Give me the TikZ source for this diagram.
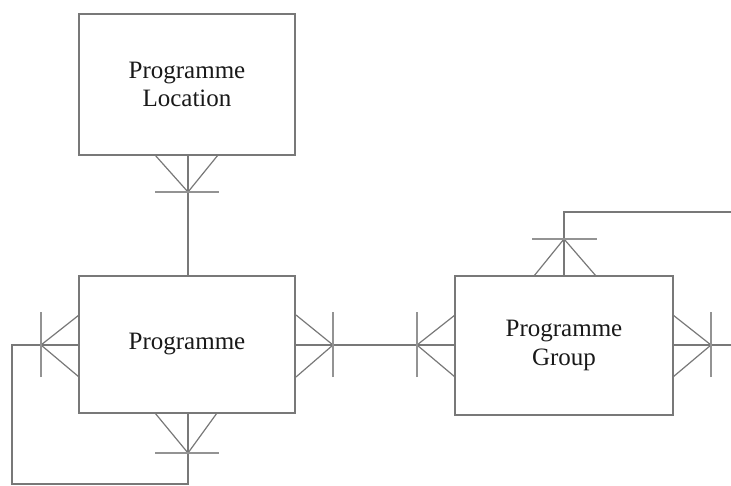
\documentclass[tikz,border=0pt]{standalone}
\usepackage{fontspec}
\setmainfont{Liberation Serif}
\definecolor{lc}{RGB}{120,120,120}
\tikzset{
  ent/.style={draw=lc, line width=1.5pt, inner sep=0pt, align=center,
              font=\fontsize{25}{28.5}\selectfont, text=black!90},
  conn/.style={draw=lc, line width=1.4pt},
  foot/.style={draw=lc, line width=1.2pt},
  barline/.style={draw=lc!80, line width=1.6pt}
}
\begin{document}
\begin{tikzpicture}[x=1pt,y=-1pt]
\useasboundingbox (0,0) rectangle (731,486);
% entities
\node[ent, minimum width=216pt, minimum height=141pt] (loc) at (187,84.5) {Programme\\Location};
\node[ent, minimum width=216pt, minimum height=137pt] (prog) at (187,344.5) {Programme};
\node[ent, minimum width=218pt, minimum height=139pt] (grp) at (564,345.5) {Programme\\Group};
% helper coordinates
\coordinate (p1) at (188,192);   % foot point below loc
\coordinate (p2) at (41,345);    % foot point left of prog
\coordinate (p3) at (188,453);   % foot point below prog
\coordinate (p4) at (333,345);   % foot point right of prog
\coordinate (p5) at (417,345);   % foot point left of grp
\coordinate (p6) at (564,239);   % foot point above grp
\coordinate (p7) at (711,345);   % foot point right of grp
\coordinate (c1) at (12,345);
\coordinate (c2) at (12,484);
\coordinate (c3) at (188,484);
\coordinate (c4) at (564,212);
\coordinate (c5) at (731,212);
\coordinate (c6) at (731,345);
% connectors
\draw[conn] (loc.south -| p1) -- (prog.north -| p1);
\draw[conn] (prog.west |- p2) -- (c1) -- (c2) -- (c3) -- (prog.south -| c3);
\draw[conn] (prog.east |- p4) -- (grp.west |- p5);
\draw[conn] (grp.north -| p6) -- (c4) -- (c5);
\draw[conn] (grp.east |- p7) -- (c6);
% crow's feet
\draw[foot] (155,155) -- (p1) -- (218,155);
\draw[barline] ([xshift=-33pt]p1) -- ([xshift=31pt]p1);
\draw[foot] (79,315) -- (p2) -- (79,377);
\draw[barline] ([yshift=-32pt]p2) -- ([yshift=33pt]p2);
\draw[foot] (155,413) -- (p3) -- (217,413);
\draw[barline] ([xshift=-33pt]p3) -- ([xshift=31pt]p3);
\draw[foot] (296,315) -- (p4) -- (296,377);
\draw[barline] ([yshift=-32pt]p4) -- ([yshift=33pt]p4);
\draw[foot] (455,315) -- (p5) -- (455,377);
\draw[barline] ([yshift=-32pt]p5) -- ([yshift=33pt]p5);
\draw[foot] (534,276) -- (p6) -- (596,276);
\draw[barline] ([xshift=-32pt]p6) -- ([xshift=33pt]p6);
\draw[foot] (673,315) -- (p7) -- (673,377);
\draw[barline] ([yshift=-32pt]p7) -- ([yshift=33pt]p7);
\end{tikzpicture}
\end{document}
